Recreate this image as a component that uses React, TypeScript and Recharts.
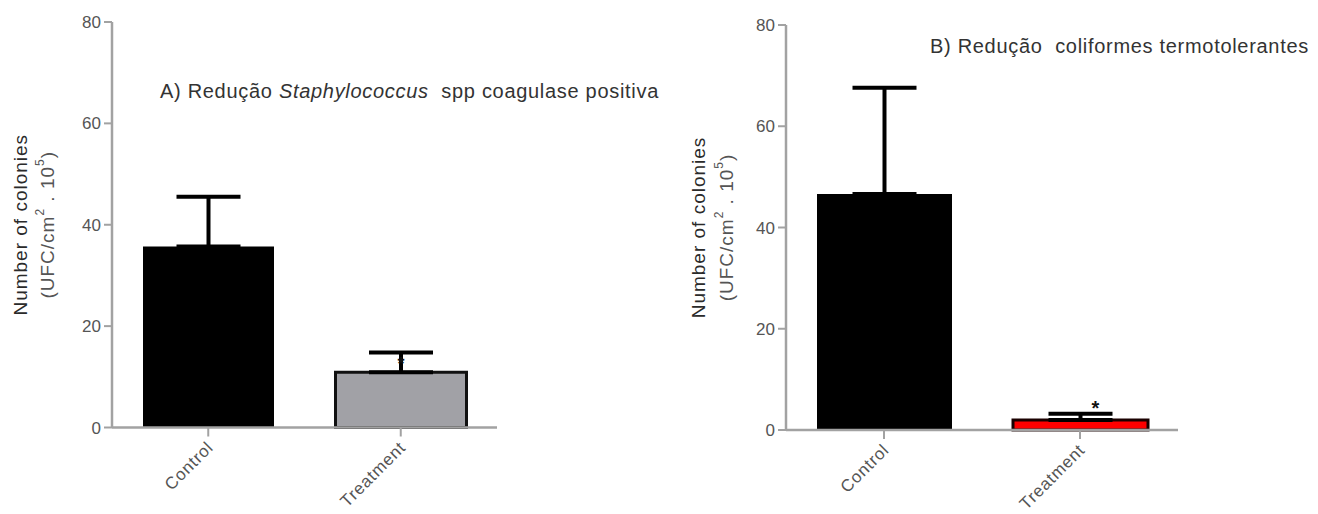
import { Bar, BarChart, Cell, ErrorBar, LabelList, XAxis, YAxis } from "recharts";

const categories = ["Control", "Treatment"];
const yTicks = [0, 20, 40, 60, 80];

// A) Staphylococcus spp coagulase positiva
const staphMean = [35.7, 10.9];
const staphSd = [9.8, 3.9];
const staphSig = ["", "*"];

// B) coliformes termotolerantes
const coliMean = [46.6, 2.0];
const coliSd = [21.0, 1.2];
const coliSig = ["", "*"];

const FONT = "Arial, 'Liberation Sans', sans-serif";
const AXIS_GREY = "#a2a2a2";

type Row = { name: string; mean: number; err: [number, number]; sig: string };

function buildRows(means: number[], sds: number[], sig: string[]): Row[] {
  return categories.map((name, i) => ({ name, mean: means[i], err: [0, sds[i]], sig: sig[i] }));
}

const staphRows = buildRows(staphMean, staphSd, staphSig);
const coliRows = buildRows(coliMean, coliSd, coliSig);

function XTick(props: any) {
  const { x, y, payload } = props;
  return (
    <g transform={`translate(${x + 6},${y + 10})`}>
      <text
        x={0}
        y={0}
        transform="rotate(-45)"
        textAnchor="end"
        fontFamily={FONT}
        fontSize={17}
        letterSpacing={0.8}
        fill="#555"
      >
        {payload.value}
      </text>
    </g>
  );
}

function YLabel(props: any) {
  const { viewBox, offsets } = props;
  if (!viewBox) return null;
  const plotLeft = viewBox.x + viewBox.width;
  const cy = viewBox.y + viewBox.height / 2;
  const x1 = plotLeft + offsets[0];
  const x2 = plotLeft + offsets[1];
  return (
    <g fontFamily={FONT} fontSize={19} letterSpacing={1}>
      <text x={x1} y={cy} transform={`rotate(-90, ${x1}, ${cy})`} textAnchor="middle" dominantBaseline="central" fill="#2a2a2a">
        Number of colonies
      </text>
      <text x={x2} y={cy} transform={`rotate(-90, ${x2}, ${cy})`} textAnchor="middle" dominantBaseline="central" fill="#555">
        (UFC/cm
        <tspan dy={-7} fontSize={12}>2</tspan>
        <tspan dy={7}> . 10</tspan>
        <tspan dy={-7} fontSize={12}>5</tspan>
        <tspan dy={7}>)</tspan>
      </text>
    </g>
  );
}

type PanelProps = {
  rows: Row[];
  width: number;
  height: number;
  margin: { top: number; right: number; bottom: number; left: number };
  barSize: number;
  fills: string[];
  strokes: string[];
  labelOffsets: [number, number];
  starDx: number;
  starDy: number;
  starSize: number;
};

function Panel({ rows, width, height, margin, barSize, fills, strokes, labelOffsets, starDx, starDy, starSize }: PanelProps) {
  const renderStar = (p: any) => {
    if (!p.value) return null;
    return (
      <text
        x={p.x + p.width / 2 + starDx}
        y={p.y + starDy}
        textAnchor="middle"
        fontFamily={FONT}
        fontSize={starSize}
        fontWeight="bold"
        fill="#111"
      >
        {p.value}
      </text>
    );
  };

  return (
    <BarChart width={width} height={height} data={rows} margin={margin}>
      <XAxis
        dataKey="name"
        interval={0}
        height={60}
        tickSize={9}
        axisLine={{ stroke: AXIS_GREY, strokeWidth: 2.5 }}
        tickLine={{ stroke: AXIS_GREY, strokeWidth: 2 }}
        tick={<XTick />}
      />
      <YAxis
        domain={[0, 80]}
        ticks={yTicks}
        width={60}
        tickSize={8}
        tickMargin={3}
        axisLine={{ stroke: AXIS_GREY, strokeWidth: 2.5 }}
        tickLine={{ stroke: AXIS_GREY, strokeWidth: 2 }}
        tick={{ fontFamily: FONT, fontSize: 17, fill: "#555" }}
        label={<YLabel offsets={labelOffsets} />}
      />
      <Bar dataKey="mean" barSize={barSize} isAnimationActive={false}>
        {rows.map((r, i) => (
          <Cell key={r.name} fill={fills[i]} stroke={strokes[i]} strokeWidth={strokes[i] === "none" ? 0 : 3} />
        ))}
        <ErrorBar dataKey="err" width={32} stroke="#000" strokeWidth={4} direction="y" isAnimationActive={false} />
        <LabelList dataKey="sig" content={renderStar} />
      </Bar>
    </BarChart>
  );
}

const titleStyle: React.CSSProperties = {
  position: "absolute",
  fontFamily: FONT,
  fontSize: 20,
  lineHeight: "20px",
  letterSpacing: 0.7,
  color: "#333",
  whiteSpace: "pre",
};

export default function App() {
  return (
    <div style={{ position: "absolute", left: 0, top: 0, width: 1318, height: 514, background: "#fff", overflow: "hidden" }}>
      <div style={{ position: "absolute", left: 0, top: 0 }}>
        <Panel
          rows={staphRows}
          width={680}
          height={514}
          margin={{ top: 22, right: 183, bottom: 26.5, left: 52 }}
          barSize={131}
          fills={["#000000", "#a1a1a6"]}
          strokes={["none", "#111111"]}
          labelOffsets={[-92, -65]}
          starDx={0}
          starDy={-2}
          starSize={18}
        />
      </div>
      <div style={{ position: "absolute", left: 680, top: 0 }}>
        <Panel
          rows={coliRows}
          width={638}
          height={514}
          margin={{ top: 25, right: 140, bottom: 24, left: 46 }}
          barSize={135}
          fills={["#000000", "#ff0000"]}
          strokes={["none", "#1a0000"]}
          labelOffsets={[-88, -60]}
          starDx={15}
          starDy={-5}
          starSize={20}
        />
      </div>
      <div style={{ ...titleStyle, left: 160, top: 81 }}>
        A) Redução <i>Staphylococcus</i>  spp coagulase positiva
      </div>
      <div style={{ ...titleStyle, left: 930, top: 36 }}>B) Redução  coliformes termotolerantes</div>
    </div>
  );
}
